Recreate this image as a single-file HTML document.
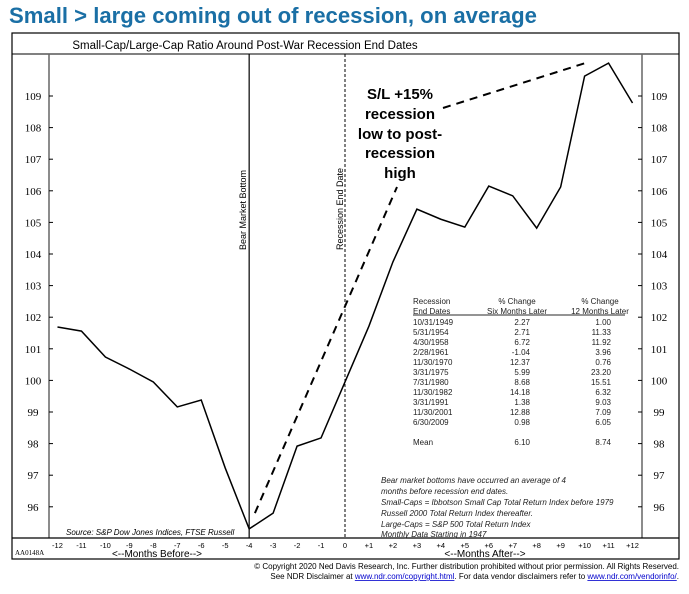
<!DOCTYPE html>
<html><head><meta charset="utf-8"><style>
body{margin:0;background:#fff;width:689px;height:589px;overflow:hidden;font-family:"Liberation Sans",sans-serif}
svg text{font-family:"Liberation Sans",sans-serif}
svg text.serif{font-family:"Liberation Serif",serif}
</style></head><body>
<svg width="689" height="589">
<text x="9" y="23" font-size="22" font-weight="bold" fill="#1a6fa5" textLength="528" lengthAdjust="spacingAndGlyphs">Small &gt; large coming out of recession, on average</text>
<rect x="12" y="33" width="667" height="526" fill="none" stroke="#000" stroke-width="1.2"/>
<line x1="12" y1="54" x2="679" y2="54" stroke="#000"/>
<text x="245" y="49" font-size="11.5" text-anchor="middle">Small-Cap/Large-Cap Ratio Around Post-War Recession End Dates</text>
<line x1="49" y1="54" x2="49" y2="538" stroke="#666" stroke-width="1.5"/>
<line x1="642" y1="54" x2="642" y2="538" stroke="#666" stroke-width="1.5"/>
<line x1="12" y1="538" x2="679" y2="538" stroke="#000" stroke-width="1.2"/>
<g id="yt"></g>
<g id="xt"></g>
<text class="serif" x="15" y="555" font-size="7">AA0148A</text>
<text x="157" y="557" font-size="10" text-anchor="middle">&lt;--Months Before--&gt;</text>
<text x="485" y="557" font-size="10" text-anchor="middle">&lt;--Months After--&gt;</text>
<g id="marks"></g>
<text transform="translate(246,250) rotate(-90)" font-size="9">Bear Market Bottom</text>
<text transform="translate(343,250) rotate(-90)" font-size="9">Recession End Date</text>
<g font-size="15" font-weight="bold" text-anchor="middle">
<text x="400" y="99">S/L +15%</text><text x="400" y="119">recession</text><text x="400" y="139">low to post-</text><text x="400" y="158">recession</text><text x="400" y="178">high</text></g>
<g font-size="8" fill="#222">
<text x="413" y="304">Recession</text><text x="413" y="314">End Dates</text>
<text x="517" y="304" text-anchor="middle">% Change</text><text x="517" y="314" text-anchor="middle">Six Months Later</text>
<text x="600" y="304" text-anchor="middle">% Change</text><text x="600" y="314" text-anchor="middle">12 Months Later</text>
<line x1="413" y1="315" x2="625" y2="315" stroke="#555" stroke-width="1.2"/>
<g id="tbl"></g>
</g>
<g font-size="8" font-style="italic" fill="#222">
<text x="381" y="483">Bear market bottoms have occurred an average of 4</text>
<text x="381" y="494">months before recession end dates.</text>
<text x="381" y="505">Small-Caps = Ibbotson Small Cap Total Return Index before 1979</text>
<text x="381" y="516">Russell 2000 Total Return Index thereafter.</text>
<text x="381" y="527">Large-Caps = S&amp;P 500 Total Return Index</text>
<text x="381" y="537">Monthly Data Starting in 1947</text>
</g>
<text x="66" y="535" font-size="8" font-style="italic">Source: S&amp;P Dow Jones Indices, FTSE Russell</text>
<text x="679" y="569" font-size="8" text-anchor="end">© Copyright 2020 Ned Davis Research, Inc.  Further distribution prohibited without prior permission.  All Rights Reserved.</text>
<text x="679" y="579" font-size="8" text-anchor="end">See NDR Disclaimer at <tspan fill="#00c" text-decoration="underline">www.ndr.com/copyright.html</tspan>. For data vendor disclaimers refer to <tspan fill="#00c" text-decoration="underline">www.ndr.com/vendorinfo/</tspan>.</text>
</svg>
<script>
const months=[-12,-11,-10,-9,-8,-7,-6,-5,-4,-3,-2,-1,0,1,2,3,4,5,6,7,8,9,10,11,12];
const ratio=[101.69,101.56,100.74,100.36,99.95,99.16,99.38,97.23,95.3,95.8,97.92,98.18,99.95,101.72,103.75,105.42,105.1,104.85,106.15,105.84,104.82,106.12,109.63,110.04,108.78];
const yTicks=[96,97,98,99,100,101,102,103,104,105,106,107,108,109];
const trend1Months=[-3.76,2.17];
const trend1Values=[95.8,106.12];
const trend2Months=[4.09,10.02];
const trend2Values=[108.62,110.04];
const recDates=["10/31/1949","5/31/1954","4/30/1958","2/28/1961","11/30/1970","3/31/1975","7/31/1980","11/30/1982","3/31/1991","11/30/2001","6/30/2009"];
const six=["2.27","2.71","6.72","-1.04","12.37","5.99","8.68","14.18","1.38","12.88","0.98"];
const twelve=["1.00","11.33","11.92","3.96","0.76","23.20","15.51","6.32","9.03","7.09","6.05"];
const NS="http://www.w3.org/2000/svg";
const X=m=>345+m*23.96, Y=v=>96+(109-v)*31.6;
function mk(t,a,p){const e=document.createElementNS(NS,t);for(const k in a)e.setAttribute(k,a[k]);(p||document.getElementById('marks')).appendChild(e);return e;}
const yt=document.getElementById('yt'),xt=document.getElementById('xt');
yTicks.forEach(v=>{const y=Y(v);
 mk('line',{x1:49,y1:y,x2:53,y2:y,stroke:'#000'},yt);mk('line',{x1:638,y1:y,x2:642,y2:y,stroke:'#000'},yt);
 let t=mk('text',{x:33,y:y+4,'font-size':11,'text-anchor':'middle','class':'serif'},yt);t.textContent=v;
 
 t=mk('text',{x:659,y:y+4,'font-size':11,'text-anchor':'middle','class':'serif'},yt);t.textContent=v;
 
});
months.forEach(m=>{const t=mk('text',{x:X(m),y:548,'font-size':7.5,'text-anchor':'middle'},xt);t.textContent=m>0?'+'+m:m;
 });
let l=mk('line',{x1:X(-4),y1:54,x2:X(-4),y2:538,stroke:'#000','stroke-width':1.2});

l=mk('line',{x1:X(0),y1:54,x2:X(0),y2:538,stroke:'#000','stroke-dasharray':'3,2'});

l=mk('line',{x1:X(trend1Months[0]),y1:Y(trend1Values[0]),x2:X(trend1Months[1]),y2:Y(trend1Values[1]),stroke:'#000','stroke-width':2,'stroke-dasharray':'8,6'});

l=mk('line',{x1:X(trend2Months[0]),y1:Y(trend2Values[0]),x2:X(trend2Months[1]),y2:Y(trend2Values[1]),stroke:'#000','stroke-width':2,'stroke-dasharray':'8,6'});

const p=mk('polyline',{points:months.map((m,i)=>X(m)+','+Y(ratio[i])).join(' '),fill:'none',stroke:'#000','stroke-width':1.5});


const tb=document.getElementById('tbl');
recDates.forEach((d,i)=>{const y=325+i*10;
 let t=mk('text',{x:413,y:y},tb);t.textContent=d;
 t=mk('text',{x:530,y:y,'text-anchor':'end'},tb);t.textContent=six[i];
 t=mk('text',{x:611,y:y,'text-anchor':'end'},tb);t.textContent=twelve[i];});
let t=mk('text',{x:413,y:445},tb);t.textContent='Mean';
t=mk('text',{x:530,y:445,'text-anchor':'end'},tb);t.textContent='6.10';
t=mk('text',{x:611,y:445,'text-anchor':'end'},tb);t.textContent='8.74';
</script>
</body></html>
